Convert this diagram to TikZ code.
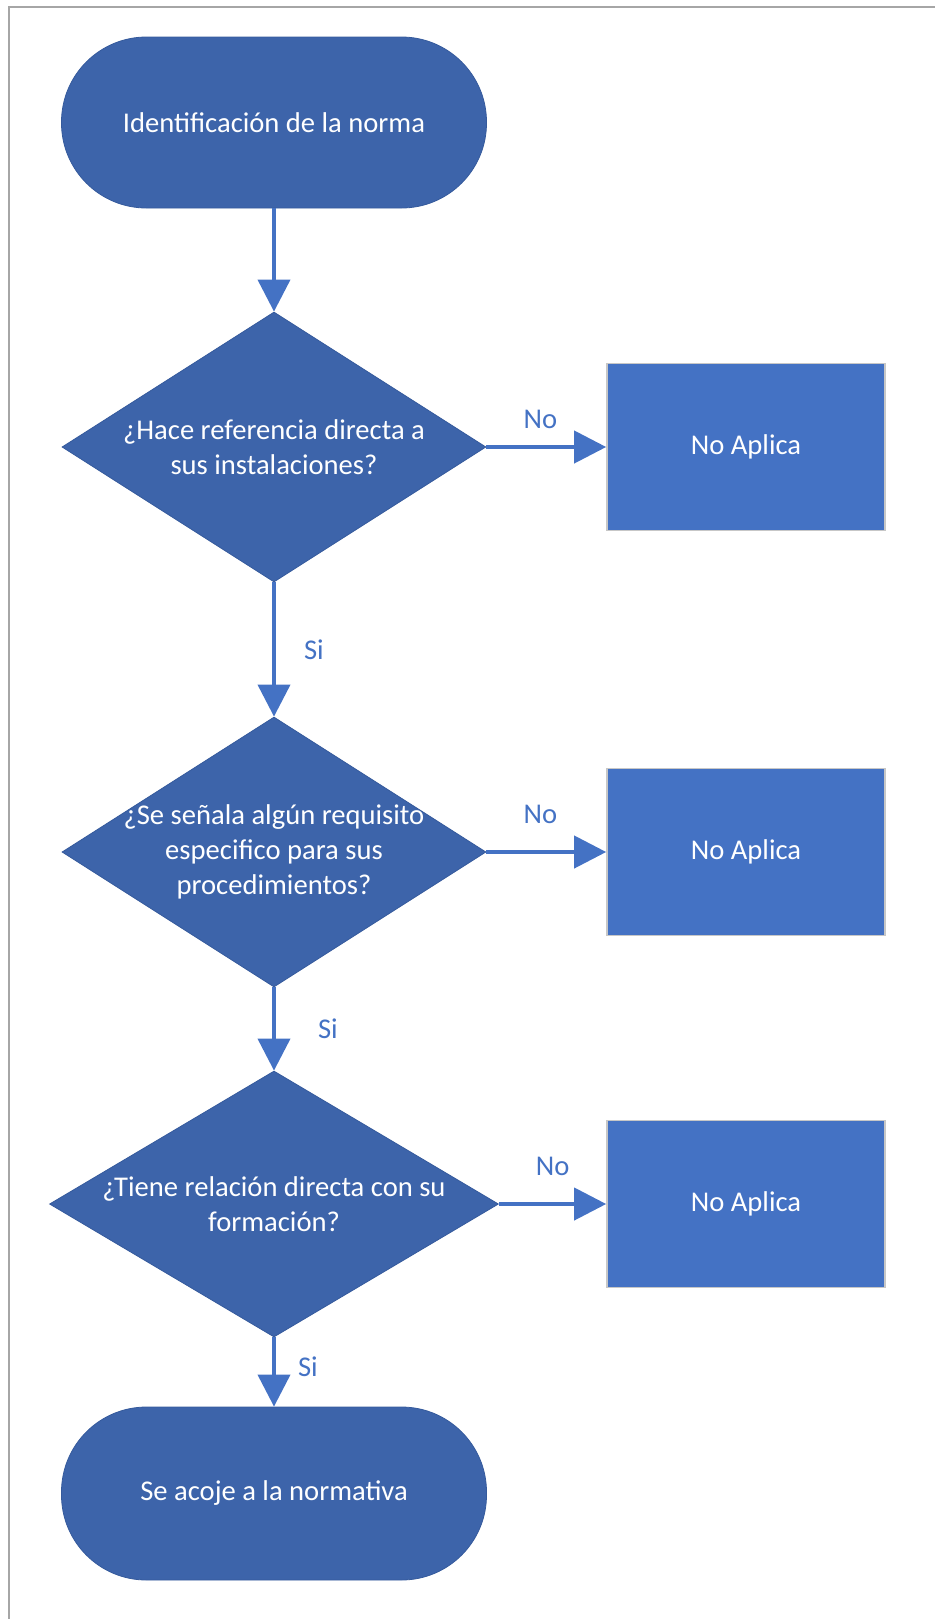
\documentclass[tikz,border=0pt]{standalone}
\usepackage{fontspec}
\setmainfont{Carlito}
\usetikzlibrary{arrows.meta,positioning}
\usetikzlibrary{shapes.geometric}
\tikzset{every picture/.style={/utils/exec={\fontsize{14.3}{17.5}\selectfont}}}
\definecolor{darkblue}{HTML}{3D64AA}
\definecolor{lightblue}{HTML}{4472C4}
\definecolor{edgeblue}{HTML}{355A9C}

\begin{document}
\begin{tikzpicture}[x=0.5pt, y=-0.5pt, node distance=236pt]
  \tikzstyle{terminal} = [rectangle, rounded corners=42.5pt, minimum width=212.5pt, minimum height=85.5pt, fill=darkblue, draw=edgeblue, text=white, text centered]
  \tikzstyle{decision} = [diamond, minimum width=212pt, minimum height=135pt, inner sep=0pt, fill=darkblue, draw=edgeblue]
  \tikzstyle{question} = [text=white, align=center]
  \tikzstyle{noapply} = [rectangle, minimum width=139pt, minimum height=83.5pt, fill=lightblue, draw=black!22, thick, text=white]
  \tikzstyle{answer} = [text=lightblue, inner sep=2pt]

  \tikzstyle{arrow} = [-{Triangle[width=16pt,length=16pt]}, line width=2pt, draw=lightblue]

  \useasboundingbox (0,0) rectangle (935,1619);
  % frame: top and left edge only
  \draw [black!35, line width=1pt] (935,7) -- (9,7) -- (9,1619);

  \node (start) [terminal] at (274,122.5) {Identificación de la norma};
  \node (dec1) [decision, label={[question]center:{¿Hace referencia directa a\\sus instalaciones?}}] at (274,447) {};
  \node (na1) [noapply, right of=dec1] {No Aplica};
  \node (dec2) [decision, label={[question]center:{¿Se señala algún requisito\\especifico para sus\\procedimientos?}}] at (274,852) {};
  \node (na2) [noapply, right of=dec2] {No Aplica};
  \node (dec3) [decision, minimum width=224.5pt, minimum height=133pt, label={[question]center:{¿Tiene relación directa con su\\formación?}}] at (274,1204) {};
  \node (na3) [noapply, right of=dec3] {No Aplica};
  \node (stop) [terminal, minimum height=86.5pt] at (274,1493.5) {Se acoje a la normativa};

  \draw [arrow] (start) -- (dec1);
  \draw [arrow] (dec1) -- node[answer, pos=.45, above=6pt] {No} (na1);
  \draw [arrow] (dec1) -- node[answer, right=12pt] {Si} (dec2);
  \draw [arrow] (dec2) -- node[answer, pos=.45, above=11pt] {No} (na2);
  \draw [arrow] (dec2) -- node[answer, right=19pt] {Si} (dec3);
  \draw [arrow] (dec3) -- node[answer, pos=.5, above=11pt] {No} (na3);
  \draw [arrow] (dec3) -- node[answer, pos=.42, right=9pt] {Si} (stop);
\end{tikzpicture}
\end{document}
